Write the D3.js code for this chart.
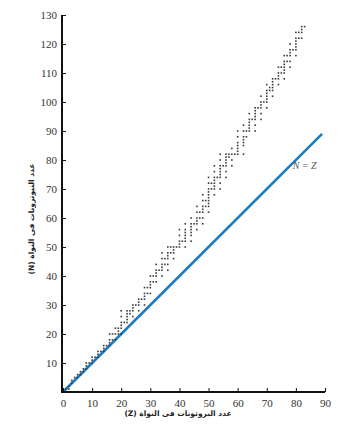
<!DOCTYPE html>
<html>
<head>
<meta charset="utf-8">
<script src="https://cdn.jsdelivr.net/npm/d3@7"></script>
<style>
  body { margin: 0; background: #fff; }
  .axis path, .axis line { stroke: #111; }
  .title { font-family: "DejaVu Sans", sans-serif; font-size: 7.5px; font-weight: bold; fill: #222; }
</style>
</head>
<body>
<div id="chart"></div>
<script>
// proton numbers (Z) and the neutron numbers (N) of the stable nuclei read for each
var protons = [1, 2, 3, 4, 5, 6, 7, 8, 9, 10, 11, 12, 13, 14, 15, 16, 17, 18, 19, 20,
    21, 22, 23, 24, 25, 26, 27, 28, 29, 30, 31, 32, 33, 34, 35, 36, 37, 38, 39, 40,
    41, 42, 44, 45, 46, 47, 48, 49, 50, 51, 52, 53, 54, 55, 56, 57, 58, 59, 60, 62,
    63, 64, 65, 66, 67, 68, 69, 70, 71, 72, 73, 74, 75, 76, 77, 78, 79, 80, 81, 82, 83];
var neutrons = [
    [0, 1], [1, 2], [3, 4], [5], [5, 6], [6, 7], [7, 8], [8, 9, 10], [10], [10, 11, 12],
    [12], [12, 13, 14], [14], [14, 15, 16], [16], [16, 17, 18, 20], [18, 20], [18, 20, 22],
    [20, 21, 22], [20, 22, 23, 24, 26, 28],
    [24], [24, 25, 26, 27, 28], [27, 28], [26, 28, 29, 30], [30], [28, 30, 31, 32], [32],
    [30, 32, 33, 34, 36], [34, 36], [34, 36, 37, 38, 40], [38, 40], [38, 40, 41, 42, 44],
    [42], [40, 42, 43, 44, 46, 48], [44, 46], [42, 44, 46, 47, 48, 50], [48, 50],
    [46, 48, 49, 50], [50], [50, 51, 52, 54, 56],
    [52], [50, 52, 53, 54, 55, 56, 58], [52, 54, 55, 56, 57, 58, 60], [58],
    [56, 58, 59, 60, 62, 64], [60, 62], [58, 60, 62, 63, 64, 66, 68], [64, 66],
    [62, 64, 65, 66, 67, 68, 69, 70, 72, 74], [70, 72], [68, 70, 71, 72, 73, 74, 76, 78],
    [74], [70, 72, 74, 75, 76, 77, 78, 80, 82], [78], [74, 76, 78, 79, 80, 81, 82],
    [81, 82], [78, 80, 82, 84], [82], [82, 83, 84, 85, 86, 88, 90], [82, 85, 86, 87, 88, 90, 92],
    [88, 90], [90, 91, 92, 93, 94, 96], [94], [90, 92, 94, 95, 96, 97, 98], [98],
    [94, 96, 98, 99, 100, 102], [100], [98, 100, 101, 102, 103, 104, 106], [104, 105],
    [102, 104, 105, 106, 107, 108], [108], [106, 108, 109, 110, 112], [110, 112],
    [108, 110, 111, 112, 113, 114, 116], [114, 116], [112, 114, 116, 117, 118, 120], [118],
    [116, 118, 119, 120, 121, 122, 124], [122, 124], [122, 124, 125, 126], [126]];

var xTicks = [0, 10, 20, 30, 40, 50, 60, 70, 80, 90];
var yTicks = [10, 20, 30, 40, 50, 60, 70, 80, 90, 100, 110, 120, 130];
var lineZ = [0, 89];

var xLabel = "عدد البروتونات فى النواة (Z)";
var yLabel = "عدد النيوترونات فى النواة (N)";
var lineLabel = "N = Z";

function init() {
    var w = 363;
    var h = 429;

    // flatten the table into single points
    var dataset = [];
    protons.forEach(function(z, i) {
        neutrons[i].forEach(function(n) {
            dataset.push({ z: z, n: n });
        });
    });

    var xScale = d3.scaleLinear().domain([0, 90]).range([63, 325]);
    var yScale = d3.scaleLinear().domain([0, 130]).range([392, 15]);

    var svg = d3.select("#chart")
                .append("svg")
                .attr("width", w)
                .attr("height", h);

    // ticks point inward, labels stay outside
    var xAxis = d3.axisBottom(xScale)
                  .tickValues(xTicks)
                  .tickSize(-4)
                  .tickPadding(7)
                  .tickSizeOuter(0);

    var yAxis = d3.axisLeft(yScale)
                  .tickValues(yTicks)
                  .tickSize(-4)
                  .tickPadding(5)
                  .tickSizeOuter(0);

    svg.append("path")
       .datum(lineZ)
       .attr("fill", "none")
       .attr("stroke", "#1b7cc2")
       .attr("stroke-width", 2.6)
       .attr("d", d3.line()
                    .x(function(d) { return xScale(d); })
                    .y(function(d) { return yScale(d); }));

    svg.selectAll("rect.dot")
       .data(dataset)
       .enter()
       .append("rect")
       .attr("class", "dot")
       .attr("x", function(d) { return xScale(d.z) - 0.8; })
       .attr("y", function(d) { return yScale(d.n) - 0.8; })
       .attr("width", 1.6)
       .attr("height", 1.6)
       .attr("fill", "#3a3a3a");

    var gx = svg.append("g")
       .attr("class", "axis")
       .attr("transform", "translate(0," + yScale(0) + ")")
       .call(xAxis)
       .attr("font-family", "Liberation Serif, serif")
       .attr("font-size", 11);
    gx.select(".domain").attr("stroke-width", 2).attr("d", "M62,0H" + xScale(90));
    gx.selectAll("text").attr("fill", "#333");

    var gy = svg.append("g")
       .attr("class", "axis")
       .attr("transform", "translate(62,0)")
       .call(yAxis)
       .attr("font-family", "Liberation Serif, serif")
       .attr("font-size", 11);
    gy.select(".domain").attr("stroke-width", 2).attr("d", "M0," + yScale(130) + "V" + (yScale(0) + 1));
    gy.selectAll("text").attr("fill", "#333");

    svg.append("text")
       .attr("x", xScale(83))
       .attr("y", yScale(77))
       .attr("text-anchor", "middle")
       .attr("font-family", "Liberation Serif, serif")
       .attr("font-style", "italic")
       .attr("font-size", 10)
       .attr("fill", "#555")
       .text(lineLabel);

    svg.append("text")
       .attr("class", "title")
       .attr("x", 178)
       .attr("y", 416)
       .attr("text-anchor", "middle")
       .attr("direction", "rtl")
       .text(xLabel);

    svg.append("text")
       .attr("class", "title")
       .attr("transform", "translate(34,219) rotate(-90)")
       .attr("text-anchor", "middle")
       .attr("direction", "rtl")
       .text(yLabel);
}

window.onload = init;
</script>
</body>
</html>
